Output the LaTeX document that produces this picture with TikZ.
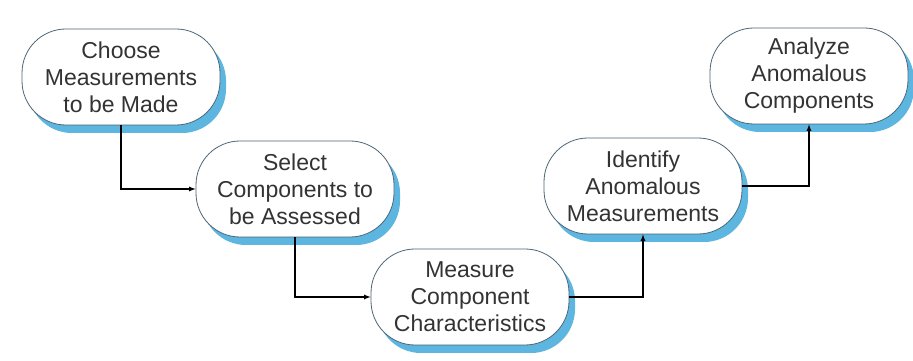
\documentclass[tikz,border=0pt]{standalone}
\usepackage{fontspec}
\setmainfont{Liberation Sans}
\usetikzlibrary{arrows,positioning,shadows}
\definecolor{shadowblue}{HTML}{5CB6E0}
\definecolor{rimgray}{HTML}{4D6575}
\definecolor{textgray}{HTML}{333333}
\tikzset{
  stepbox/.style={rectangle,rounded corners=44pt,draw=rimgray,line width=0.8pt,fill=white,
    minimum width=198pt,minimum height=96pt,align=center,text=textgray,
    font=\fontsize{23}{27}\selectfont,
    drop shadow={shadow xshift=6pt,shadow yshift=-8pt,fill=shadowblue,opacity=1}},
  link/.style={draw=black,line width=1.2pt,-latex}
}

\begin{document}
\begin{tikzpicture}[x=1pt,y=1pt,node distance=110pt and 172pt,on grid]
\fill[white] (0,0) rectangle (913,361);
\useasboundingbox (0,0) rectangle (913,361);
\node[stepbox] (choose) at (121,284) {Choose\\Measurements\\to be Made};
\node[stepbox,below right=112pt and 174pt of choose] (select) {Select\\Components to\\be Assessed};
\node[stepbox,below right=108pt and 175pt of select] (measure) {Measure\\Component\\Characteristics};
\node[stepbox,above right=111pt and 173pt of measure] (identify) {Identify\\Anomalous\\Measurements};
\node[stepbox,above right=110pt and 166pt of identify] (analyze) {Analyze\\Anomalous\\Components};
\draw[link] (choose.south) |- (select.west);
\draw[link] (select.south) |- (measure.west);
\draw[link] (measure.east) -| (identify.south);
\draw[link] (identify.east) -| (analyze.south);
\end{tikzpicture}
\end{document}
